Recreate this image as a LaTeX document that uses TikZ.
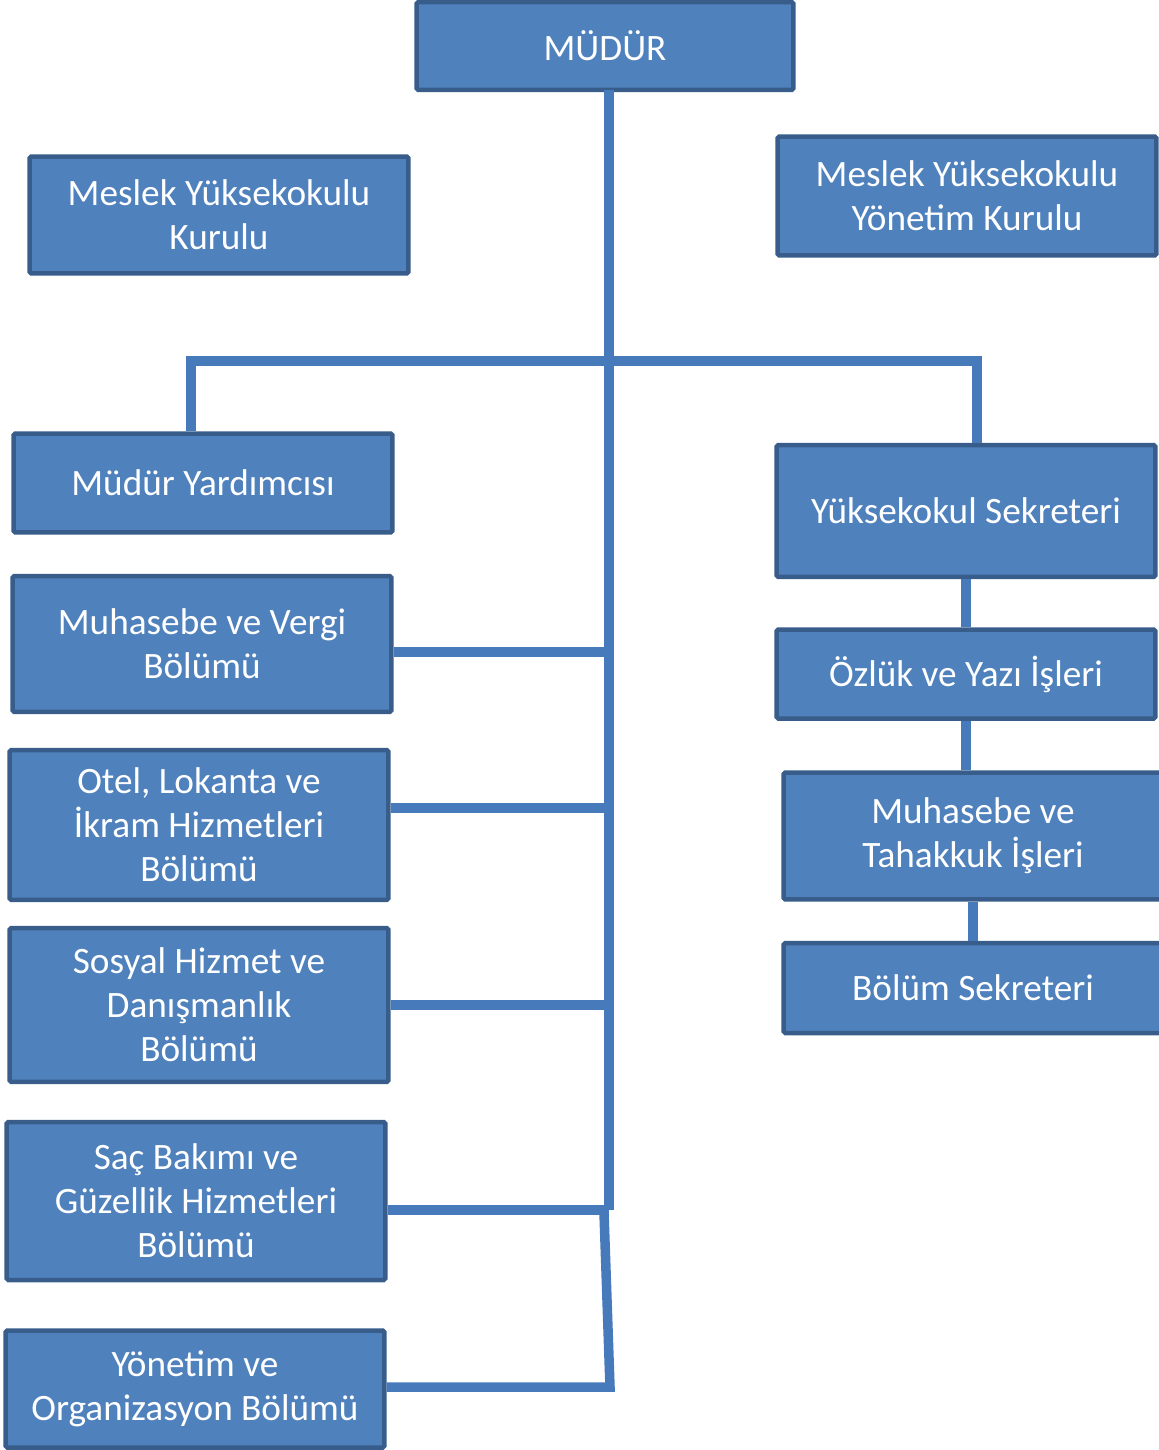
\documentclass[tikz,border=0pt]{standalone}
\usepackage{fontspec}
\setmainfont{Carlito}
\usepackage{tikz}
\definecolor{boxfill}{RGB}{79,129,189}
\definecolor{boxline}{RGB}{56,93,138}
\definecolor{linkblue}{RGB}{70,122,186}
\usetikzlibrary{positioning,calc}

\begin{document}
\begin{tikzpicture}[x=0.02cm,y=-0.02cm,
  every node/.style={rectangle,draw=boxline,fill=boxfill,line width=0.09cm,
    rounded corners=1pt,text=white,align=center,inner sep=0pt,
    font=\fontsize{21.2}{25}\selectfont},
  unit/.style={minimum width=7.58cm},
  link/.style={draw=linkblue,line width=0.19cm}
  ]
  \useasboundingbox (0,0) rectangle (1159,1450);

  % the top of the chart
  \node[minimum width=7.54cm,minimum height=1.76cm] (mudur) at (605,46) {MÜDÜR};
  \node[unit,minimum height=2.34cm] (kurul) at (219,215) {Meslek Yüksekokulu\\Kurulu};
  \node[unit,minimum height=2.38cm] (ykurul) at (967,196) {Meslek Yüksekokulu\\Yönetim Kurulu};

  % the left column
  \node[unit,minimum height=1.98cm] (myard) at (203,483) {Müdür Yardımcısı};
  \node[unit,minimum height=2.72cm] (vergi) at (202,644) {Muhasebe ve Vergi\\Bölümü};
  \node[unit,minimum height=3.0cm] (otel) at (199,825) {Otel, Lokanta ve\\İkram Hizmetleri\\Bölümü};
  \node[unit,minimum height=3.08cm] (sosyal) at (199,1005) {Sosyal Hizmet ve\\Danışmanlık\\Bölümü};
  \node[unit,minimum height=3.16cm] (sac) at (196,1201) {Saç Bakımı ve\\Güzellik Hizmetleri\\Bölümü};
  \node[unit,minimum height=2.34cm] (yonetim) at (195,1389) {Yönetim ve\\Organizasyon Bölümü};

  % the right column
  \node[unit,minimum height=2.64cm] (sekreter) at (966,511) {Yüksekokul Sekreteri};
  \node[unit,minimum height=1.78cm] (ozluk) at (966,674) {Özlük ve Yazı İşleri};
  \node[unit,minimum height=2.54cm] (tahakkuk) at (973,836) {Muhasebe ve\\Tahakkuk İşleri};
  \node[unit,minimum height=1.8cm] (bolum) at (973,988) {Bölüm Sekreteri};

  % the trunk and the bus
  \coordinate (trunk) at (609,90);
  \coordinate (trunkend) at (609,1210);
  \coordinate (busL) at (191,361);
  \coordinate (busR) at (977,361);
  \coordinate (bend) at (604,1213);
  \coordinate (corner) at (610,1387);
  \coordinate (vergiE) at ([yshift=-0.16cm]vergi.east);
  \coordinate (otelE) at ([yshift=0.34cm]otel.east);
  \coordinate (sacE) at ([yshift=-0.18cm]sac.east);
  \draw[link] (trunk) -- (trunkend);
  \draw[link] (busL |- myard.north) -- (busL) -- (busR) -- (busR |- sekreter.north);

  % the edges of the left column
  \draw[link] (vergiE) -- (vergiE -| trunk);
  \draw[link] (otelE) -- (otelE -| trunk);
  \draw[link] (sosyal.east) -- (sosyal.east -| trunk);
  \draw[link] (sacE) -- (sacE -| trunkend);
  \draw[link] (bend) -- (corner) -- (yonetim.east |- corner);

  % the edges of the right column
  \draw[link] (sekreter.south) -- (ozluk.north);
  \draw[link] (ozluk.south) -- (ozluk.south |- tahakkuk.north);
  \draw[link] (tahakkuk.south) -- (bolum.north);
\end{tikzpicture}
\end{document}
